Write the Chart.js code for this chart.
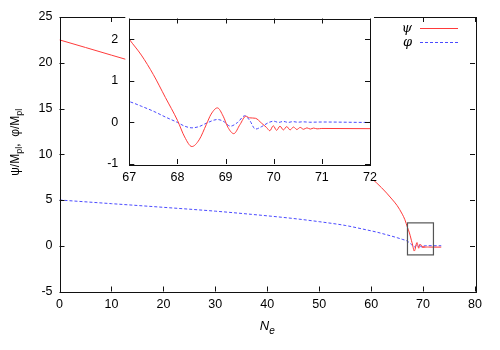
<!DOCTYPE html>
<html>
<head>
<meta charset="utf-8">
<script src="https://cdn.jsdelivr.net/npm/chart.js@4.4.0/dist/chart.umd.min.js"></script>
<style>
  html, body { margin: 0; padding: 0; background: #fff; }
  #wrap { position: relative; width: 500px; height: 350px; }
  #wrap canvas { position: absolute; left: 0; top: 0; }
</style>
</head>
<body>
<div id="wrap">
  <canvas id="main" width="500" height="350"></canvas>
  <canvas id="inset" width="500" height="350"></canvas>
</div>
<script>
// ─── Data ────────────────────────────────────────────────────────
const psiNe  = [0, 5, 10, 12.6, 20, 30, 40, 50, 55, 58, 60, 61, 62, 63, 64, 65, 66, 66.5,
                67, 67.25, 67.5, 67.75, 68, 68.15, 68.3, 68.45, 68.6, 68.7, 68.83, 68.95,
                69.05, 69.17, 69.3, 69.42, 69.5, 69.62, 69.75, 69.85, 69.92, 69.99, 70.06,
                70.13, 70.2, 70.27, 70.34, 70.41, 70.48, 70.55, 70.62, 70.69, 70.76, 70.83,
                70.9, 71, 72, 73.5];
const psiVal = [22.5, 21.67, 20.83, 20.4, 19.0, 16.9, 14.4, 11.4, 9.6, 8.3, 7.4, 6.9, 6.35, 5.75, 5.1, 4.4, 3.45, 2.85,
                2.0, 1.62, 1.15, 0.6, 0.05, -0.35, -0.58, -0.42, -0.05, 0.2, 0.35, 0.15,
                -0.12, -0.27, -0.05, 0.15, 0.11, 0.1, -0.02, -0.12, -0.2, -0.08, -0.19,
                -0.09, -0.18, -0.1, -0.18, -0.11, -0.17, -0.12, -0.165, -0.13, -0.16, -0.135,
                -0.155, -0.145, -0.15, -0.15];

const phiNe  = [0, 10, 20, 30, 37, 45, 50, 55, 59, 61, 63, 65, 66,
                67, 67.25, 67.5, 67.75, 68, 68.15, 68.3, 68.45, 68.6, 68.83, 68.95, 69.1,
                69.25, 69.4, 69.5, 69.62, 69.75, 69.9, 70, 70.1, 70.2, 70.3, 70.4, 70.5,
                70.6, 70.75, 71, 72, 73.5];
const phiVal = [5.0, 4.6, 4.2, 3.78, 3.43, 2.98, 2.63, 2.22, 1.75, 1.5, 1.2, 0.88, 0.7,
                0.5, 0.39, 0.27, 0.13, 0.0, -0.09, -0.13, -0.1, -0.02, 0.07, 0.03, -0.09,
                0.0, 0.16, 0.05, -0.16, -0.1, 0.0, 0.03, 0.0, 0.025, 0.0, 0.02, 0.005,
                0.015, 0.005, 0.01, 0.0, 0.0];

const mainXTicks  = [0, 10, 20, 30, 40, 50, 60, 70, 80];
const mainYTicks  = [-5, 0, 5, 10, 15, 20, 25];
const insetXTicks = [67, 68, 69, 70, 71, 72];
const insetYTicks = [-1, 0, 1, 2];
const insetXRange = [67, 72];
const insetYRange = [-1, 2.5];

const RED  = '#ff3a3a';
const BLUE = '#4a4aff';
const tickFont = { family: 'Liberation Sans', size: 12.5 };

const pts = (xs, ys) => xs.map((x, i) => ({ x: x, y: ys[i] }));

function makeDatasets() {
  return [
    { data: pts(psiNe, psiVal), borderColor: RED, borderWidth: 1, pointRadius: 0,
      cubicInterpolationMode: 'monotone' },
    { data: pts(phiNe, phiVal), borderColor: BLUE, borderWidth: 1, borderDash: [3, 2],
      pointRadius: 0, cubicInterpolationMode: 'monotone' }
  ];
}

// ─── Frame: box + inward ticks on all four sides ─────────────────
const framePlugin = {
  id: 'frame',
  afterDatasetsDraw(chart, args, opts) {
    const { ctx, chartArea: a, scales: { x, y } } = chart;
    const len = opts.len || 5;
    ctx.save();
    ctx.strokeStyle = '#111';
    ctx.lineWidth = 1;
    ctx.beginPath();
    x.ticks.forEach(t => {
      const px = Math.round(x.getPixelForValue(t.value)) + 0.5;
      ctx.moveTo(px, a.bottom); ctx.lineTo(px, a.bottom - len);
      ctx.moveTo(px, a.top);    ctx.lineTo(px, a.top + len);
    });
    y.ticks.forEach(t => {
      const py = Math.round(y.getPixelForValue(t.value)) + 0.5;
      ctx.moveTo(a.left, py);  ctx.lineTo(a.left + len, py);
      ctx.moveTo(a.right, py); ctx.lineTo(a.right - len, py);
    });
    ctx.stroke();
    ctx.strokeRect(Math.round(a.left) + 0.5, Math.round(a.top) + 0.5,
                   Math.round(a.right - a.left), Math.round(a.bottom - a.top));
    ctx.restore();
  }
};

function drawParts(ctx, parts, cx, base) {
  let w = 0;
  parts.forEach(p => { ctx.font = p.font; w += ctx.measureText(p.t).width; });
  let x = cx - w / 2;
  parts.forEach(p => {
    ctx.font = p.font;
    ctx.fillText(p.t, x, base + (p.dy || 0));
    x += ctx.measureText(p.t).width;
  });
}

// ─── Main-chart extras: zoom box, legend, axis titles ────────────
const mainExtras = {
  id: 'mainExtras',
  afterDraw(chart) {
    const { ctx, chartArea: a, scales: { x, y } } = chart;
    ctx.save();
    // zoom box
    const x0 = x.getPixelForValue(insetXRange[0]), x1 = x.getPixelForValue(insetXRange[1]);
    const y0 = y.getPixelForValue(insetYRange[1]), y1 = y.getPixelForValue(insetYRange[0]);
    ctx.strokeStyle = '#555';
    ctx.lineWidth = 1.2;
    ctx.strokeRect(x0, y0, x1 - x0, y1 - y0);

    // legend
    ctx.fillStyle = '#000';
    ctx.textAlign = 'right';
    ctx.font = 'italic 13px "DejaVu Serif"';
    ctx.fillText('\u03c8', a.right - 63, a.top + 15);
    ctx.fillText('\u03c6', a.right - 63, a.top + 29);
    ctx.lineWidth = 1;
    ctx.strokeStyle = RED;
    ctx.beginPath(); ctx.moveTo(a.right - 55, a.top + 11.5); ctx.lineTo(a.right - 17, a.top + 11.5); ctx.stroke();
    ctx.strokeStyle = BLUE;
    ctx.setLineDash([3, 2]);
    ctx.beginPath(); ctx.moveTo(a.right - 55, a.top + 25.5); ctx.lineTo(a.right - 17, a.top + 25.5); ctx.stroke();
    ctx.setLineDash([]);

    // x title: N_e
    ctx.textAlign = 'left';
    drawParts(ctx, [
      { t: 'N', font: 'italic 13px "Liberation Sans"' },
      { t: 'e', font: 'italic 10px "Liberation Sans"', dy: 4 }
    ], (a.left + a.right) / 2, 330);

    // y title: ψ/M_pl, φ/M_pl
    ctx.translate(19, (a.top + a.bottom) / 2 - 12);
    ctx.rotate(-Math.PI / 2);
    const big = '12px "Liberation Sans"', small = '9px "Liberation Sans"';
    drawParts(ctx, [
      { t: '\u03c8/M', font: big }, { t: 'pl', font: small, dy: 3 },
      { t: ',  \u03c6/M', font: big }, { t: 'pl', font: small, dy: 3 }
    ], 0, 0);
    ctx.restore();
  }
};

// ─── Inset background (white patch over the main plot) ───────────
const insetBg = {
  id: 'insetBg',
  beforeDraw(chart) {
    const { ctx, chartArea: a } = chart;
    ctx.save();
    ctx.fillStyle = '#fff';
    ctx.fillRect(a.left - 4, a.top - 5, a.right - a.left + 8, a.bottom - a.top + 23);
    ctx.restore();
  }
};

function axis(min, max, ticks, fit, pad) {
  return {
    type: 'linear', min: min, max: max,
    afterBuildTicks: s => { s.ticks = ticks.map(v => ({ value: v })); },
    afterFit: fit,
    grid: { display: false, drawTicks: false },
    border: { display: false },
    ticks: { padding: pad, color: '#000', font: tickFont, maxRotation: 0, autoSkip: false }
  };
}

// main plot: area 59.5..475 x 17..291.5
new Chart(document.getElementById('main'), {
  type: 'line',
  data: { datasets: makeDatasets() },
  options: {
    responsive: false, animation: false, devicePixelRatio: 1,
    layout: { padding: { left: 0, top: 17, right: 25, bottom: 0 } },
    plugins: { legend: { display: false }, tooltip: { enabled: false }, frame: { len: 5 } },
    scales: {
      x: axis(0, 80, mainXTicks, s => { s.height = 58.5; }, 6),
      y: axis(-5, 25, mainYTicks, s => { s.width = 59.5; }, 7)
    }
  },
  plugins: [framePlugin, mainExtras]
});

// inset: area 129.3..370 x 17..164
new Chart(document.getElementById('inset'), {
  type: 'line',
  data: { datasets: makeDatasets() },
  options: {
    responsive: false, animation: false, devicePixelRatio: 1,
    layout: { padding: { left: 0, top: 17, right: 130, bottom: 0 } },
    plugins: { legend: { display: false }, tooltip: { enabled: false }, frame: { len: 5 } },
    scales: {
      x: axis(insetXRange[0], insetXRange[1], insetXTicks, s => { s.height = 186; }, 6),
      y: axis(insetYRange[0], insetYRange[1], insetYTicks, s => { s.width = 129.3; }, 11)
    }
  },
  plugins: [insetBg, framePlugin]
});
</script>
</body>
</html>
